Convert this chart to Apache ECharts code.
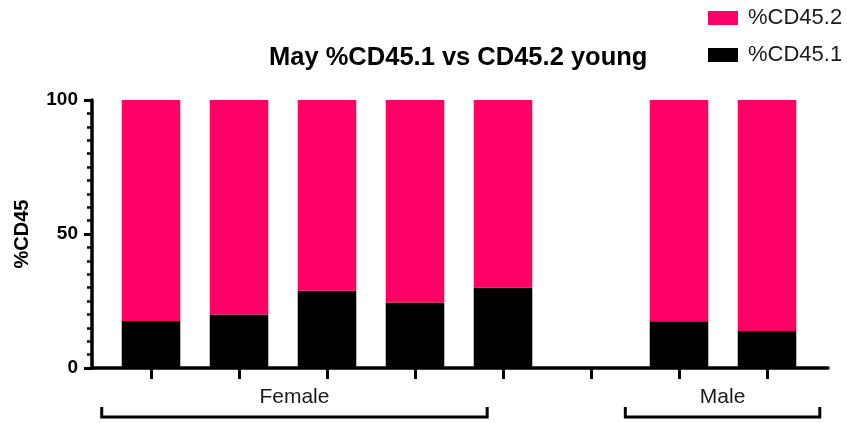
<!DOCTYPE html>
<html>
<head>
<meta charset="utf-8">
<script src="https://cdn.jsdelivr.net/npm/echarts@6/dist/echarts.min.js"></script>
<style>
html,body{margin:0;padding:0;background:#fff;}
#chart{width:847px;height:423px;}
</style>
</head>
<body>
<div id="chart"></div>
<script>
// ---- data ----
const categories = ['F1', 'F2', 'F3', 'F4', 'F5', '', 'M1', 'M2'];
const cd451 = [17.5, 20.0, 28.8, 24.4, 30.0, null, 17.4, 13.8];
const cd452 = [82.5, 80.0, 71.2, 75.6, 70.0, null, 82.6, 86.2];
const groupNames = ['Female', 'Male'];
const groupFirst = [0, 6];
const groupLast = [4, 7];
const yTicks = [0, 50, 100];

// ---- layout / style constants ----
const FONT = 'Liberation Sans, Arial, sans-serif';
const PINK = '#ff0066';
const bracketOffsets = [[-0.56, -0.18], [-0.61, 0.60]]; // in category units, relative to first/last

const chart = echarts.init(document.getElementById('chart'), null, {renderer: 'canvas'});

const option = {
  animation: false,
  backgroundColor: '#fff',
  title: {
    text: 'May %CD45.1 vs CD45.2 young',
    left: 264,
    top: 40,
    textStyle: {fontFamily: FONT, fontSize: 25.5, fontWeight: 'bold', color: '#000'}
  },
  legend: {
    orient: 'vertical',
    left: 703,
    top: 2,
    itemWidth: 30,
    itemHeight: 14,
    itemGap: 15,
    icon: 'rect',
    data: ['%CD45.2', '%CD45.1'],
    textStyle: {fontFamily: FONT, fontSize: 22, color: '#1a1a1a', padding: [0, 0, 0, 5]}
  },
  grid: [
    {left: 107, right: 36, top: 100, bottom: 55},
    {left: 92, right: 19, top: 100, bottom: 55}
  ],
  xAxis: [
    {
      type: 'category', gridIndex: 0, data: categories,
      axisLine: {show: false},
      axisTick: {show: true, alignWithLabel: true, interval: 0, length: 11, lineStyle: {color: '#000', width: 3}},
      axisLabel: {show: false},
      splitLine: {show: false}
    },
    {
      type: 'value', gridIndex: 1, min: 0, max: 1,
      axisLine: {show: true, lineStyle: {color: '#000', width: 3.5}},
      axisTick: {show: false}, axisLabel: {show: false}, splitLine: {show: false}
    }
  ],
  yAxis: [
    {
      type: 'value', gridIndex: 0,
      min: yTicks[0], max: yTicks[yTicks.length - 1], interval: yTicks[1] - yTicks[0],
      offset: 15,
      name: '%CD45', nameLocation: 'middle', nameRotate: 90, nameGap: 60,
      nameTextStyle: {fontFamily: FONT, fontSize: 20, fontWeight: 'bold', color: '#000'},
      axisLine: {show: true, lineStyle: {color: '#000', width: 3.5}},
      axisTick: {show: true, length: 8, lineStyle: {color: '#000', width: 3}},
      minorTick: {show: true, splitNumber: 10, length: 5, lineStyle: {color: '#000', width: 2.5}},
      axisLabel: {fontFamily: FONT, fontSize: 19, fontWeight: 'bold', color: '#000', margin: 14},
      splitLine: {show: false}
    },
    {
      type: 'value', gridIndex: 1, min: 0, max: 100, show: false
    }
  ],
  series: [
    {
      name: '%CD45.1', type: 'bar', stack: 'total', xAxisIndex: 0, yAxisIndex: 0,
      data: cd451, barCategoryGap: '33.5%',
      itemStyle: {color: '#000'}
    },
    {
      name: '%CD45.2', type: 'bar', stack: 'total', xAxisIndex: 0, yAxisIndex: 0,
      data: cd452, barCategoryGap: '33.5%',
      itemStyle: {color: PINK}
    }
  ]
};
chart.setOption(option);

// ---- group brackets, positioned through the category axis ----
function drawBrackets() {
  const p0 = chart.convertToPixel({xAxisIndex: 0}, 0);
  const p1 = chart.convertToPixel({xAxisIndex: 0}, 1);
  const step = p1 - p0;
  const yBase = chart.convertToPixel({yAxisIndex: 0}, 0);
  const els = [];
  groupNames.forEach((name, i) => {
    const x1 = p0 + (groupFirst[i] + bracketOffsets[i][0]) * step;
    const x2 = p0 + (groupLast[i] + bracketOffsets[i][1]) * step;
    const top = yBase + 39, bot = yBase + 49;
    els.push({
      type: 'polyline',
      shape: {points: [[x1, top], [x1, bot], [x2, bot], [x2, top]]},
      style: {stroke: '#000', lineWidth: 3, fill: null}
    });
    els.push({
      type: 'text',
      x: (x1 + x2) / 2, y: yBase + 29,
      style: {text: name, fontFamily: FONT, fontSize: 21, fill: '#1a1a1a', align: 'center', verticalAlign: 'middle'}
    });
  });
  chart.setOption({graphic: els});
}
drawBrackets();
</script>
</body>
</html>
